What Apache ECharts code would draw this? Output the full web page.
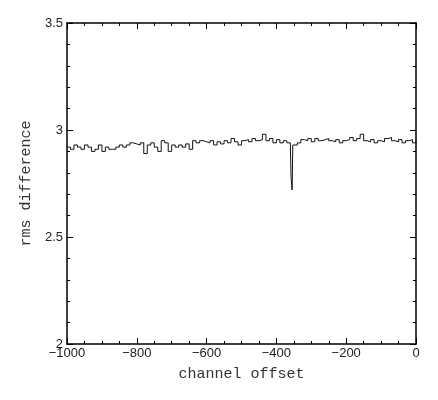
<!DOCTYPE html>
<html>
<head>
<meta charset="utf-8">
<script src="https://cdn.jsdelivr.net/npm/echarts@6/dist/echarts.min.js"></script>
<style>
html, body { margin: 0; padding: 0; background: #fff; }
#chart { width: 438px; height: 400px; }
</style>
</head>
<body>
<div id="chart"></div>
<script>
var xTicks = [-1000, -800, -600, -400, -200, 0];
var yTicks = [2, 2.5, 3, 3.5];

var channels = [
    -1000, -990, -980, -970, -960, -950, -940, -930, -920, -910,
    -900, -890, -880, -870, -860, -850, -840, -830, -820, -810,
    -800, -790, -780, -770, -760, -750, -740, -730, -720, -710,
    -700, -690, -680, -670, -660, -650, -640, -630, -620, -610,
    -600, -590, -580, -570, -560, -550, -540, -530, -520, -510,
    -500, -490, -480, -470, -460, -450, -440, -430, -420, -410,
    -400, -390, -380, -370, -360, -358, -355, -353, -340, -330,
    -320, -310, -300, -290, -280, -270, -260, -250, -240, -230,
    -220, -210, -200, -190, -180, -170, -160, -150, -140, -130,
    -120, -110, -100, -90, -80, -70, -60, -50, -40, -30,
    -20, -10, 0
];
var rms = [
    2.92, 2.91, 2.93, 2.92, 2.91, 2.93, 2.92, 2.90, 2.91, 2.93,
    2.90, 2.92, 2.91, 2.91, 2.92, 2.93, 2.92, 2.93, 2.94, 2.935,
    2.93, 2.94, 2.89, 2.93, 2.94, 2.92, 2.90, 2.95, 2.94, 2.90,
    2.93, 2.92, 2.93, 2.92, 2.935, 2.91, 2.95, 2.94, 2.95, 2.945,
    2.94, 2.95, 2.93, 2.945, 2.935, 2.95, 2.94, 2.96, 2.945, 2.93,
    2.95, 2.955, 2.945, 2.96, 2.95, 2.955, 2.98, 2.95, 2.96, 2.94,
    2.955, 2.94, 2.95, 2.94, 2.93, 2.78, 2.72, 2.93, 2.94, 2.955,
    2.95, 2.96, 2.945, 2.96, 2.95, 2.955, 2.96, 2.95, 2.945, 2.955,
    2.94, 2.95, 2.955, 2.965, 2.95, 2.96, 2.98, 2.95, 2.945, 2.955,
    2.94, 2.95, 2.945, 2.96, 2.965, 2.95, 2.945, 2.955, 2.94, 2.95,
    2.955, 2.94, 2.95
];

var points = [];
for (var i = 0; i < channels.length; i++) {
    points.push([channels[i], rms[i]]);
}

var labelFont = { fontFamily: 'Liberation Sans', fontSize: 13, color: '#222' };
var nameFont = { fontFamily: 'Liberation Mono', fontSize: 15, color: '#333' };

function frameAxis(extra) {
    var ax = {
        type: 'value',
        axisLine: { show: true, onZero: false, lineStyle: { color: '#000', width: 1.5 } },
        axisTick: { show: true, inside: true, length: 6, lineStyle: { color: '#000' } },
        splitLine: { show: false },
        axisLabel: { show: false }
    };
    for (var k in extra) ax[k] = extra[k];
    return ax;
}

function plainNumber(v) {
    // no thousands separator, long minus like the original plot
    return String(v).replace('-', '\u2212');
}

var chart = echarts.init(document.getElementById('chart'));
var option = {
    animation: false,
    backgroundColor: '#fff',
    grid: { left: 67, right: 22, top: 23, bottom: 56 },
    xAxis: [
        frameAxis({
            position: 'bottom', min: xTicks[0], max: xTicks[xTicks.length - 1], interval: 200,
            minorTick: { show: true, splitNumber: 4, length: 3, lineStyle: { color: '#000' } },
            axisLabel: Object.assign({ show: true, margin: 3, formatter: plainNumber }, labelFont),
            name: 'channel offset', nameLocation: 'middle', nameGap: 23,
            nameTextStyle: nameFont
        }),
        frameAxis({
            position: 'top', min: xTicks[0], max: xTicks[xTicks.length - 1], interval: 200,
            minorTick: { show: true, splitNumber: 4, length: 3, lineStyle: { color: '#000' } }
        })
    ],
    yAxis: [
        frameAxis({
            position: 'left', min: yTicks[0], max: yTicks[yTicks.length - 1], interval: 0.5,
            minorTick: { show: true, splitNumber: 5, length: 3, lineStyle: { color: '#000' } },
            axisLabel: Object.assign({ show: true, margin: 4, formatter: plainNumber }, labelFont),
            name: 'rms difference', nameLocation: 'middle', nameGap: 30,
            nameTextStyle: nameFont
        }),
        frameAxis({
            position: 'right', min: yTicks[0], max: yTicks[yTicks.length - 1], interval: 0.5,
            minorTick: { show: true, splitNumber: 5, length: 3, lineStyle: { color: '#000' } }
        })
    ],
    series: [{
        type: 'line',
        step: 'end',
        data: points,
        showSymbol: false,
        lineStyle: { color: '#111', width: 1 }
    }]
};
chart.setOption(option);
</script>
</body>
</html>
